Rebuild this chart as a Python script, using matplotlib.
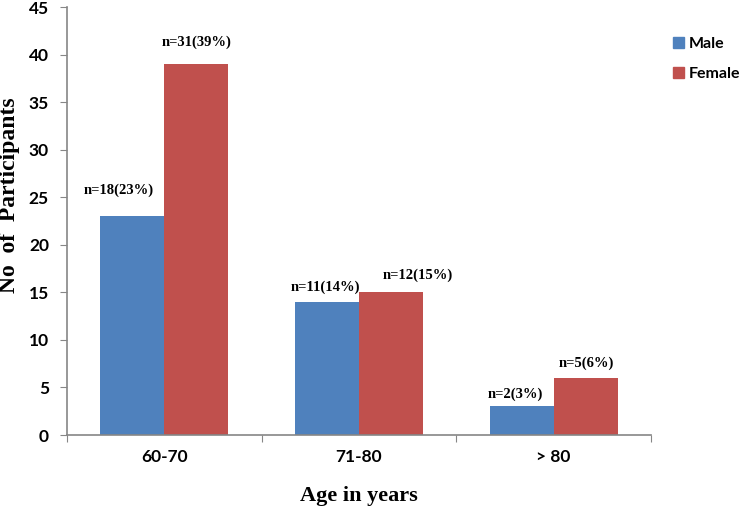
import numpy as np
import matplotlib
matplotlib.use('Agg')
import matplotlib.pyplot as plt
from matplotlib.patches import Patch

# data
age_groups = ['60-70', '71-80', '> 80']
male = [23, 14, 3]
female = [39, 15, 6]
male_labels = ['n=18(23%)', 'n=11(14%)', 'n=2(3%)']
female_labels = ['n=31(39%)', 'n=12(15%)', 'n=5(6%)']

# label nudges in points (dx, dy) from the top centre of each bar
male_nudge = [(-9.7, 18.7), (-1.4, 10.8), (-4.3, 9.0)]
female_nudge = [(0.0, 15.8), (19.4, 12.2), (0.7, 10.8)]

blue = '#4F81BD'
red = '#C0504D'
grey = '#868686'
sans = ['Lato', 'DejaVu Sans']
serif = ['Liberation Serif', 'DejaVu Serif']

fig = plt.figure(figsize=(7.44, 5.09), dpi=100)
ax = fig.add_axes([67/744, 1-435/509, (651-67)/744, (435-7)/509])

x = np.arange(len(age_groups))
w = 0.328
bm = ax.bar(x - w/2, male, w, color=blue, linewidth=0)
bf = ax.bar(x + w/2, female, w, color=red, linewidth=0)

for bars, labels, nudge in [(bm, male_labels, male_nudge), (bf, female_labels, female_nudge)]:
  for b, t, (dx, dy) in zip(bars, labels, nudge):
    ax.annotate(t, xy=(b.get_x() + b.get_width()/2, b.get_height()),
                xytext=(dx, dy), textcoords='offset points',
                ha='center', va='center', fontsize=10.5,
                fontweight='bold', family=serif)

ax.set_xlim(-0.5, len(age_groups) - 0.5)
ax.set_ylim(0, 45)
ax.set_yticks(np.arange(0, 46, 5))

# major ticks at category edges, labels on minor ticks at centres
ax.set_xticks(np.arange(-0.5, len(age_groups), 1.0))
ax.set_xticklabels([])
ax.set_xticks(x, minor=True)
ax.set_xticklabels(age_groups, minor=True)
ax.tick_params(axis='x', which='major', length=5, color=grey, direction='out')
ax.tick_params(axis='x', which='minor', length=0, pad=10)
ax.tick_params(axis='y', length=5, color=grey, direction='out', pad=8)

for lab in ax.get_xticklabels(minor=True) + ax.get_yticklabels():
  lab.set_family(sans)
  lab.set_fontweight('bold')
  lab.set_fontsize(12.5)

for s in ['top', 'right']:
  ax.spines[s].set_visible(False)
for s in ['left', 'bottom']:
  ax.spines[s].set_color(grey)
  ax.spines[s].set_linewidth(1.2)

fig.text(10/744, 1-195/509, 'No  of  Participants', rotation=90, ha='center', va='center',
         fontsize=17, fontweight='bold', family=serif)
fig.text(359/744, 1-496/509, 'Age in years', ha='center', va='center',
         fontsize=16, fontweight='bold', family=serif)

handles = [Patch(color=blue), Patch(color=red)]
fig.legend(handles, ['Male', 'Female'], loc='center left',
           bbox_to_anchor=(673/744, 1-59/509), frameon=False,
           handlelength=0.7, handleheight=0.7, handletextpad=0.3,
           labelspacing=1.0, borderpad=0, borderaxespad=0,
           prop={'family': sans, 'weight': 'bold', 'size': 11.5})

fig.savefig('out.png', dpi=100)
